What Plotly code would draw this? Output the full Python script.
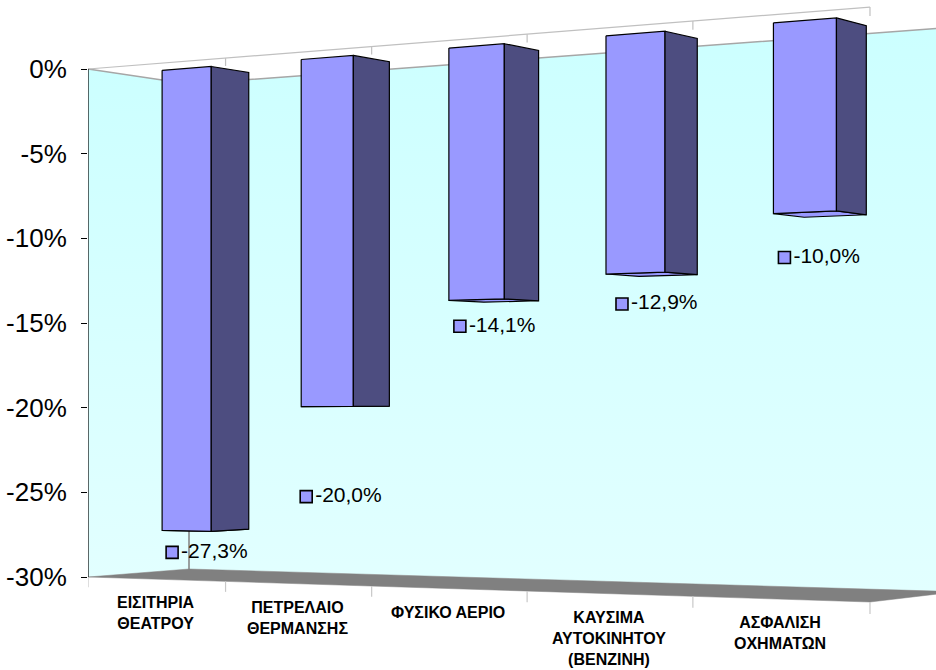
import plotly.graph_objects as go

# ---------------- data ----------------
categories = [
    "ΕΙΣΙΤΗΡΙΑ<br>ΘΕΑΤΡΟΥ",
    "ΠΕΤΡΕΛΑΙΟ<br>ΘΕΡΜΑΝΣΗΣ",
    "ΦΥΣΙΚΟ ΑΕΡΙΟ",
    "ΚΑΥΣΙΜΑ<br>ΑΥΤΟΚΙΝΗΤΟΥ<br>(ΒΕΝΖΙΝΗ)",
    "ΑΣΦΑΛΙΣΗ<br>ΟΧΗΜΑΤΩΝ",
]
values = [-27.3, -20.0, -14.1, -12.9, -10.0]
tick_values = [0, -5, -10, -15, -20, -25, -30]
tick_labels = ["0%", "-5%", "-10%", "-15%", "-20%", "-25%", "-30%"]
value_labels = [f"{v:.1f}".replace(".", ",") + "%" for v in values]

# ---------------- styling / camera ----------------
W, H = 936, 670
V_MIN, V_MAX = -30, 0
# perspective camera for the 3D look (u = category units, v = value, w = depth 0..1)
PX0, PY0 = 88.0, 69.0
AU, BW = 130.96, 109.96
CU, EW = -12.60, 18.98
PU, QW = -0.02924, 0.0474
S = 508.0 / 30.0          # px per percentage point at the front-left edge
BAR_HALF = 0.18
W_FRONT, W_BACK = 0.30, 0.68
LABEL_DX = [10, 5, 11, 16, 11]     # px offsets of value labels
LABEL_DY = [22, 90, 26, 30, 44]
TEXT_GAP = 9

FRONT = "#9999FF"
SIDE = "#4D4D80"
FLOOR = "#808080"
FONT = "Liberation Sans, Arial, sans-serif"


def proj(u, v, w):
    d = 1 + PU * u + QW * w
    x = (PX0 + AU * u + BW * w) / d
    ypx = (PY0 + CU * u - S * v + EW * w) / d
    return x, -(ypx - PY0) / S


def poly(points, fill, line_color="black", line_width=1.2, gradient=None):
    xs, ys = zip(*[proj(*p) for p in points])
    xs = list(xs) + [xs[0]]
    ys = list(ys) + [ys[0]]
    kw = dict(x=xs, y=ys, mode="lines", fill="toself", fillcolor=fill,
              line=dict(color=line_color, width=line_width),
              hoverinfo="skip", showlegend=False)
    if gradient is not None:
        kw["fillgradient"] = gradient
    return go.Scatter(**kw)


def line(points, color, width):
    xs, ys = zip(*[proj(*p) for p in points])
    return go.Scatter(x=list(xs), y=list(ys), mode="lines",
                      line=dict(color=color, width=width),
                      hoverinfo="skip", showlegend=False)


n = len(categories)
wall_grad = dict(type="vertical",
                 colorscale=[[0, "#E2FFFF"], [1, "#CCFFFF"]])

fig = go.Figure()

# walls
fig.add_trace(poly([(0, V_MAX, 0), (0, V_MAX, 1), (0, V_MIN, 1), (0, V_MIN, 0)],
                   "#D6FFFF", line_color="rgba(0,0,0,0)", line_width=0, gradient=wall_grad))
fig.add_trace(poly([(0, V_MAX, 1), (n + 0.06, V_MAX, 1), (n + 0.06, V_MIN, 1), (0, V_MIN, 1)],
                   "#D6FFFF", line_color="rgba(0,0,0,0)", line_width=0, gradient=wall_grad))
# floor
fig.add_trace(poly([(0, V_MIN, 0), (0, V_MIN, 1), (n + 0.06, V_MIN, 1), (n, V_MIN, 0)],
                   FLOOR, line_color=FLOOR, line_width=0.5))
# wall edges
fig.add_trace(line([(0, V_MAX, 0), (0, V_MAX, 1), (n + 0.06, V_MAX, 1)], "#A6A6A6", 1.5))
fig.add_trace(line([(0, V_MAX, 1), (0, V_MIN, 1)], "#808080", 1.5))

# bars
for i, v in enumerate(values):
    ul, ur = i + 0.5 - BAR_HALF, i + 0.5 + BAR_HALF
    fig.add_trace(poly([(ul, v, W_FRONT), (ur, v, W_FRONT), (ur, v, W_BACK), (ul, v, W_BACK)], FRONT))
    fig.add_trace(poly([(ul, 0, W_FRONT), (ur, 0, W_FRONT), (ur, v, W_FRONT), (ul, v, W_FRONT)], FRONT))
    fig.add_trace(poly([(ur, 0, W_FRONT), (ur, 0, W_BACK), (ur, v, W_BACK), (ur, v, W_FRONT)], SIDE))

# front frame lines with category tick marks
fig.add_trace(line([(0, V_MAX, 0), (n, V_MAX, 0)], "#C0C0C0", 1.2))
for k in range(1, n + 1):
    fig.add_trace(line([(k, V_MAX, 0), (k, V_MAX - 0.45, 0)], "#C0C0C0", 1.2))
for k in range(0, n + 1):
    fig.add_trace(line([(k, V_MIN, 0), (k, V_MIN - 0.6, 0)], "#C8C8C8", 1.2))

# value axis line
fig.add_trace(line([(0, V_MAX, 0), (0, V_MIN, 0)], "black", 1.2))

# value labels (legend-key square + text)
lx, ly = [], []
for i, v in enumerate(values):
    x0, y0 = proj(i + 0.5 - BAR_HALF, v, W_FRONT)
    lx.append(x0 + LABEL_DX[i])
    ly.append(y0 - LABEL_DY[i] / S)
fig.add_trace(go.Scatter(
    x=lx, y=ly, mode="markers",
    marker=dict(symbol="square", size=12, color=FRONT, line=dict(color="black", width=1.6)),
    hoverinfo="skip", showlegend=False, cliponaxis=False))
fig.add_trace(go.Scatter(
    x=[x + TEXT_GAP for x in lx], y=ly, mode="text", text=value_labels,
    textposition="middle right",
    textfont=dict(family=FONT, size=21, color="black"),
    hoverinfo="skip", showlegend=False, cliponaxis=False))

# category labels
for i, c in enumerate(categories):
    cx, cy = proj(i + 0.5, V_MIN, 0)
    fig.add_annotation(x=cx, y=cy, text=c, showarrow=False, xanchor="center", yanchor="top",
                       yshift=-13, align="center",
                       font=dict(family=FONT, size=16, color="black", weight="bold"))

fig.update_layout(
    width=W, height=H,
    margin=dict(l=88, r=0, t=0, b=0),
    paper_bgcolor="white", plot_bgcolor="white",
    showlegend=False,
    xaxis=dict(range=[88, W], visible=False, fixedrange=True),
    yaxis=dict(range=[-(H - PY0) / S, PY0 / S],
               tickvals=tick_values, ticktext=tick_labels,
               ticks="outside", ticklen=6, tickcolor="black", tickwidth=1.2,
               showgrid=False, zeroline=False, showline=False,
               ticklabelstandoff=9,
               tickfont=dict(family=FONT, size=26, color="black"),
               fixedrange=True),
)

fig.write_html("out.html",
               config={"displayModeBar": False},
               post_script="document.body.style.margin='0';document.body.style.overflow='hidden';")
